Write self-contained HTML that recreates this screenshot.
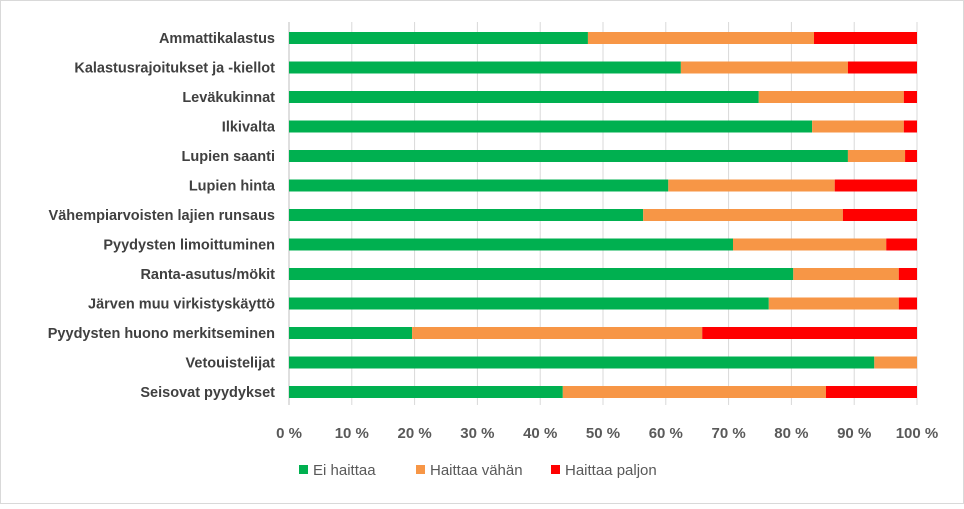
<!DOCTYPE html>
<html><head><meta charset="utf-8">
<style>
body{margin:0;background:#fff;}
svg text{font-family:"Liberation Sans",sans-serif;}
</style></head>
<body>
<svg id="chart" width="964" height="504" xmlns="http://www.w3.org/2000/svg">
<rect x="0.5" y="0.5" width="963" height="503" fill="#fff" stroke="#d9d9d9"/>
<g id="grid"></g><g id="bars"></g><g id="labels"></g><g id="ticks"></g>
<g id="legend">
<rect x="299" y="465" width="9" height="9" fill="#00b050"/>
<text x="313" y="475" font-size="15" fill="#595959">Ei haittaa</text>
<rect x="416" y="465" width="9" height="9" fill="#f79646"/>
<text x="430" y="475" font-size="15" fill="#595959">Haittaa vähän</text>
<rect x="551" y="465" width="9" height="9" fill="#ff0000"/>
<text x="565" y="475" font-size="15" fill="#595959">Haittaa paljon</text>
</g>
</svg>
<script>
const categories=["Ammattikalastus","Kalastusrajoitukset ja -kiellot","Leväkukinnat","Ilkivalta","Lupien saanti","Lupien hinta","Vähempiarvoisten lajien runsaus","Pyydysten limoittuminen","Ranta-asutus/mökit","Järven muu virkistyskäyttö","Pyydysten huono merkitseminen","Vetouistelijat","Seisovat pyydykset"];
const eiHaittaa=[47.6,62.4,74.8,83.3,89.0,60.4,56.4,70.7,80.3,76.4,19.6,93.2,43.6];
const haittaaVahan=[36.0,26.6,23.1,14.6,9.1,26.5,31.8,24.4,16.8,20.7,46.2,6.8,41.9];
const haittaaPaljon=[16.4,11.0,2.1,2.1,1.9,13.1,11.8,4.9,2.9,2.9,34.2,0,14.5];
const tickValues=[0,10,20,30,40,50,60,70,80,90,100];
const tickLabels=["0 %","10 %","20 %","30 %","40 %","50 %","60 %","70 %","80 %","90 %","100 %"];
const NS="http://www.w3.org/2000/svg";
const x0=289,x1=917,yTop=38,step=29.5,bh=12;
const xs=v=>x0+(x1-x0)*v/100;
const yc=i=>yTop+i*step;
function mk(t,a,p){const e=document.createElementNS(NS,t);for(const k in a)e.setAttribute(k,a[k]);document.getElementById(p).appendChild(e);return e;}
tickValues.forEach((v,i)=>{
  const g=mk("line",{x1:xs(v),x2:xs(v),y1:22,y2:405,stroke:i==0?"#bfbfbf":"#d9d9d9","stroke-width":1},"grid");
  
  
  const t=mk("text",{x:xs(v),y:438,"text-anchor":"middle","font-size":15,"font-weight":"bold",fill:"#595959"},"ticks");
  t.textContent=tickLabels[i];
  
  
});
const series=[[eiHaittaa,"#00b050","ei-haittaa"],[haittaaVahan,"#f79646","haittaa-vahan"],[haittaaPaljon,"#ff0000","haittaa-paljon"]];
categories.forEach((c,i)=>{
  let acc=0;
  series.forEach(([arr,col,nm])=>{
    const v=arr[i];
    if(v>0){
      const r=mk("rect",{x:xs(acc),y:yc(i)-bh/2,width:xs(acc+v)-xs(acc),height:bh,fill:col},"bars");
      
      
    }
    acc+=v;
  });
  const t=mk("text",{x:275,y:yc(i)+5,"text-anchor":"end","font-size":14.5,"font-weight":"bold",fill:"#404040"},"labels");
  t.textContent=c;
  
  
});
</script>
</body></html>
